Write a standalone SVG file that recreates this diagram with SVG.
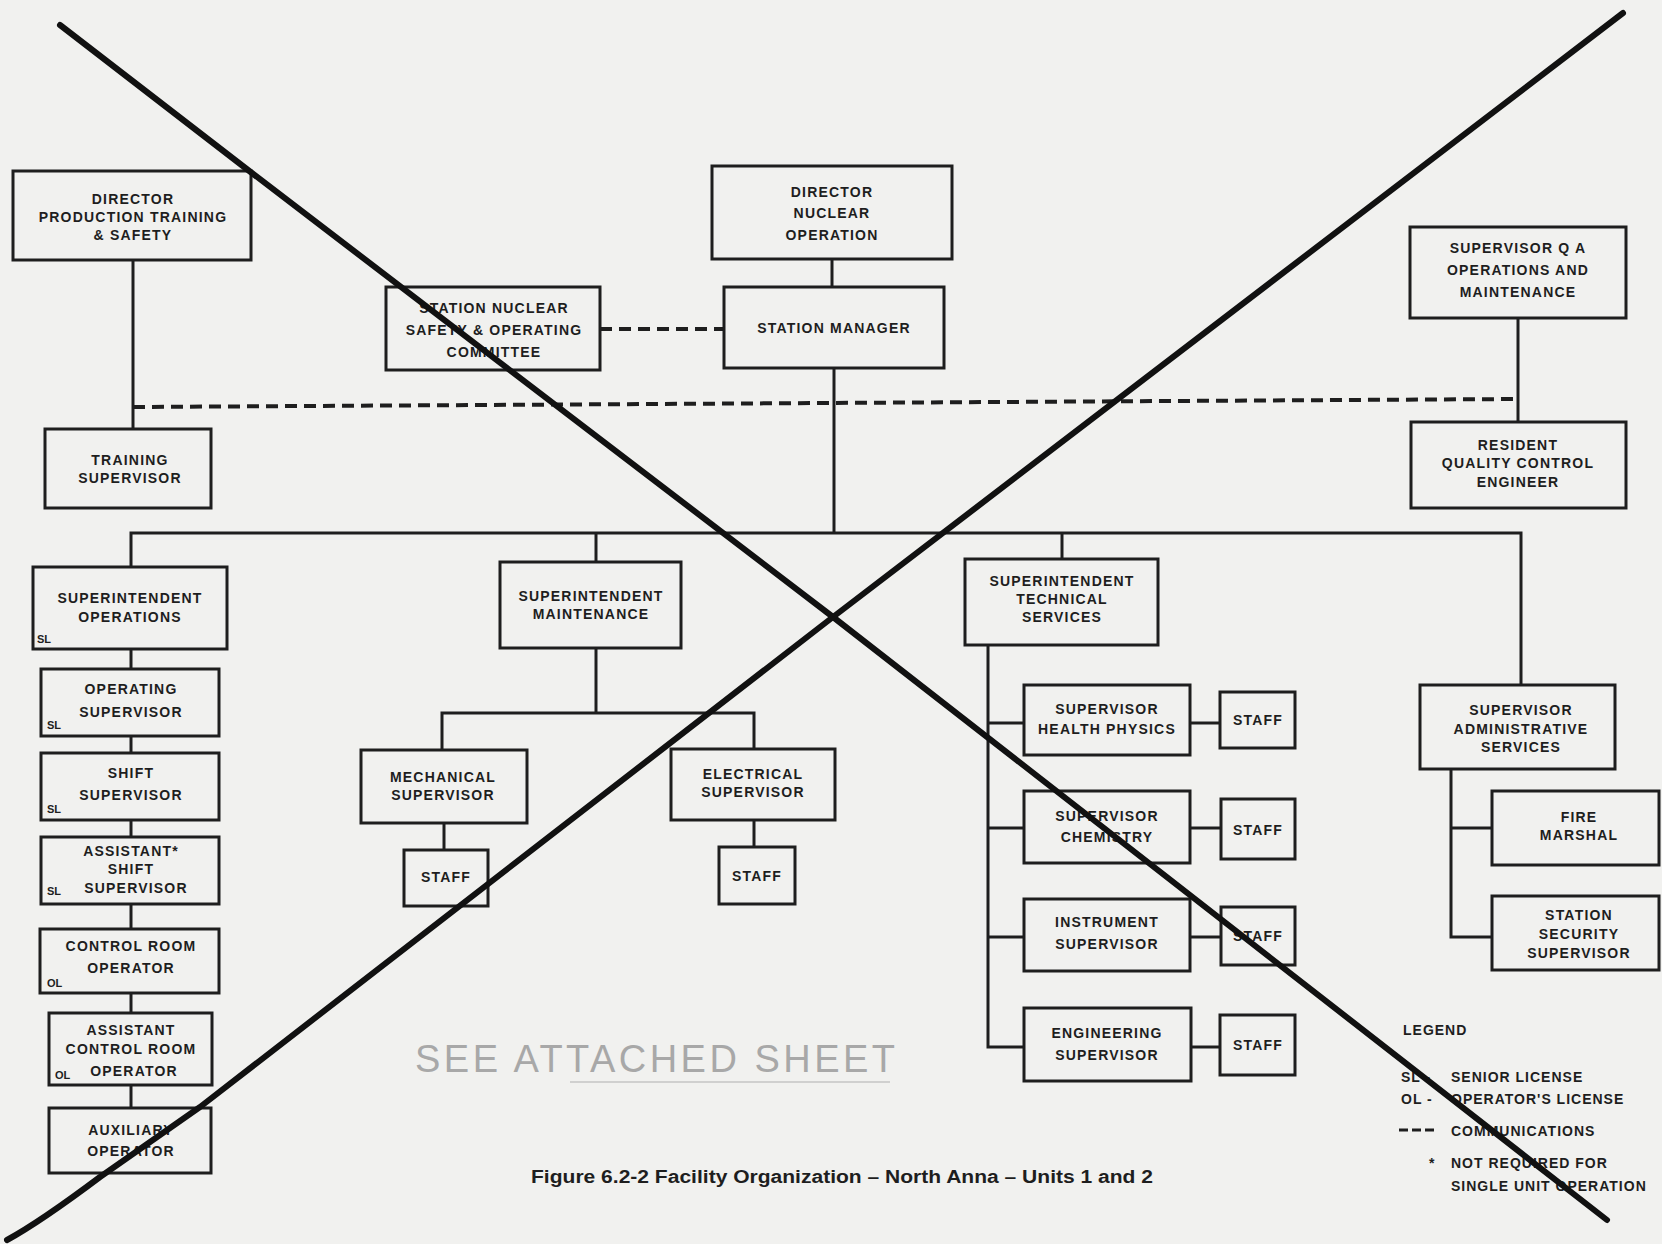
<svg xmlns="http://www.w3.org/2000/svg" width="1662" height="1244" viewBox="0 0 1662 1244">
<style>
.bg{fill:#f1f1ef}
.box{fill:none;stroke:#1e1e1e;stroke-width:3}
.ln{fill:none;stroke:#1e1e1e;stroke-width:3}
.dash{fill:none;stroke:#1e1e1e;stroke-width:4;stroke-dasharray:12 7}
.t{font-family:"Liberation Sans",Arial,sans-serif;font-weight:bold;font-size:14px;letter-spacing:1.2px;fill:#1e1e1e;text-anchor:middle}
.s{font-family:"Liberation Sans",Arial,sans-serif;font-weight:bold;font-size:11px;fill:#1e1e1e;text-anchor:start}
.lg{font-family:"Liberation Sans",Arial,sans-serif;font-weight:bold;font-size:14px;letter-spacing:1px;fill:#1e1e1e;text-anchor:start}
.x{fill:none;stroke:#111;stroke-width:6;stroke-linecap:round;stroke-linejoin:round}
</style>
<rect class="bg" x="0" y="0" width="1662" height="1244"/>

<g id="connectors">
  <line class="ln" x1="133" y1="260" x2="133" y2="429"/>
  <line class="ln" x1="832" y1="259" x2="832" y2="287"/>
  <line class="ln" x1="834" y1="368" x2="834" y2="533"/>
  <line class="ln" x1="1518" y1="318" x2="1518" y2="422"/>
  <line class="dash" x1="600" y1="329" x2="724" y2="329"/>
  <line class="dash" x1="133" y1="407" x2="1518" y2="399"/>
  <polyline class="ln" points="131,567 131,533 1521,533 1521,685"/>
  <line class="ln" x1="596" y1="533" x2="596" y2="562"/>
  <line class="ln" x1="1062" y1="533" x2="1062" y2="559"/>
  <line class="ln" x1="131" y1="649" x2="131" y2="669"/>
  <line class="ln" x1="131" y1="736" x2="131" y2="753"/>
  <line class="ln" x1="131" y1="820" x2="131" y2="837"/>
  <line class="ln" x1="131" y1="904" x2="131" y2="929"/>
  <line class="ln" x1="131" y1="993" x2="131" y2="1013"/>
  <line class="ln" x1="131" y1="1085" x2="131" y2="1108"/>
  <line class="ln" x1="596" y1="648" x2="596" y2="713"/>
  <polyline class="ln" points="442,750 442,713 754,713 754,749"/>
  <line class="ln" x1="444" y1="823" x2="444" y2="850"/>
  <line class="ln" x1="754" y1="820" x2="754" y2="847"/>
  <polyline class="ln" points="988,645 988,1047 1024,1047"/>
  <line class="ln" x1="988" y1="723" x2="1024" y2="723"/>
  <line class="ln" x1="988" y1="828" x2="1024" y2="828"/>
  <line class="ln" x1="988" y1="937" x2="1024" y2="937"/>
  <line class="ln" x1="1190" y1="723" x2="1220" y2="723"/>
  <line class="ln" x1="1190" y1="828" x2="1221" y2="828"/>
  <line class="ln" x1="1190" y1="937" x2="1221" y2="937"/>
  <line class="ln" x1="1191" y1="1047" x2="1220" y2="1047"/>
  <polyline class="ln" points="1451,769 1451,937 1492,937"/>
  <line class="ln" x1="1451" y1="828" x2="1492" y2="828"/>
</g>

<g id="dir-pts"><rect class="box" x="13" y="171" width="238" height="89"/>
<text class="t" x="133" y="204">DIRECTOR</text><text class="t" x="133" y="222">PRODUCTION TRAINING</text><text class="t" x="133" y="240">&amp; SAFETY</text></g>
<g id="dir-no"><rect class="box" x="712" y="166" width="240" height="93"/>
<text class="t" x="832" y="197">DIRECTOR</text><text class="t" x="832" y="218">NUCLEAR</text><text class="t" x="832" y="240">OPERATION</text></g>
<g id="snsoc"><rect class="box" x="386" y="287" width="214" height="83"/>
<text class="t" x="494" y="313">STATION NUCLEAR</text><text class="t" x="494" y="335">SAFETY &amp; OPERATING</text><text class="t" x="494" y="357">COMMITTEE</text></g>
<g id="station-manager"><rect class="box" x="724" y="287" width="220" height="81"/>
<text class="t" x="834" y="333">STATION MANAGER</text></g>
<g id="sup-qa"><rect class="box" x="1410" y="227" width="216" height="91"/>
<text class="t" x="1518" y="253">SUPERVISOR Q A</text><text class="t" x="1518" y="275">OPERATIONS AND</text><text class="t" x="1518" y="297">MAINTENANCE</text></g>
<g id="training-sup"><rect class="box" x="45" y="429" width="166" height="79"/>
<text class="t" x="130" y="465">TRAINING</text><text class="t" x="130" y="483">SUPERVISOR</text></g>
<g id="resident-qc"><rect class="box" x="1411" y="422" width="215" height="86"/>
<text class="t" x="1518" y="450">RESIDENT</text><text class="t" x="1518" y="468">QUALITY CONTROL</text><text class="t" x="1518" y="487">ENGINEER</text></g>

<g id="supt-ops"><rect class="box" x="33" y="567" width="194" height="82"/>
<text class="t" x="130" y="603">SUPERINTENDENT</text><text class="t" x="130" y="622">OPERATIONS</text><text class="s" x="37" y="643">SL</text></g>
<g id="op-sup"><rect class="box" x="41" y="669" width="178" height="67"/>
<text class="t" x="131" y="694">OPERATING</text><text class="t" x="131" y="717">SUPERVISOR</text><text class="s" x="47" y="729">SL</text></g>
<g id="shift-sup"><rect class="box" x="41" y="753" width="178" height="67"/>
<text class="t" x="131" y="778">SHIFT</text><text class="t" x="131" y="800">SUPERVISOR</text><text class="s" x="47" y="813">SL</text></g>
<g id="asst-shift-sup"><rect class="box" x="41" y="837" width="178" height="67"/>
<text class="t" x="131" y="856">ASSISTANT*</text><text class="t" x="131" y="874">SHIFT</text><text class="t" x="136" y="893">SUPERVISOR</text><text class="s" x="47" y="895">SL</text></g>
<g id="cr-op"><rect class="box" x="40" y="929" width="179" height="64"/>
<text class="t" x="131" y="951">CONTROL ROOM</text><text class="t" x="131" y="973">OPERATOR</text><text class="s" x="47" y="987">OL</text></g>
<g id="asst-cr-op"><rect class="box" x="49" y="1013" width="163" height="72"/>
<text class="t" x="131" y="1035">ASSISTANT</text><text class="t" x="131" y="1054">CONTROL ROOM</text><text class="t" x="134" y="1076">OPERATOR</text><text class="s" x="55" y="1079">OL</text></g>
<g id="aux-op"><rect class="box" x="49" y="1108" width="162" height="65"/>
<text class="t" x="131" y="1135">AUXILIARY</text><text class="t" x="131" y="1156">OPERATOR</text></g>

<g id="supt-maint"><rect class="box" x="500" y="562" width="181" height="86"/>
<text class="t" x="591" y="601">SUPERINTENDENT</text><text class="t" x="591" y="619">MAINTENANCE</text></g>
<g id="mech-sup"><rect class="box" x="361" y="750" width="166" height="73"/>
<text class="t" x="443" y="782">MECHANICAL</text><text class="t" x="443" y="800">SUPERVISOR</text></g>
<g id="mech-staff"><rect class="box" x="404" y="850" width="84" height="56"/>
<text class="t" x="446" y="882">STAFF</text></g>
<g id="elec-sup"><rect class="box" x="671" y="749" width="164" height="71"/>
<text class="t" x="753" y="779">ELECTRICAL</text><text class="t" x="753" y="797">SUPERVISOR</text></g>
<g id="elec-staff"><rect class="box" x="719" y="847" width="76" height="57"/>
<text class="t" x="757" y="881">STAFF</text></g>

<g id="supt-tech"><rect class="box" x="965" y="559" width="193" height="86"/>
<text class="t" x="1062" y="586">SUPERINTENDENT</text><text class="t" x="1062" y="604">TECHNICAL</text><text class="t" x="1062" y="622">SERVICES</text></g>
<g id="sup-hp"><rect class="box" x="1024" y="685" width="166" height="70"/>
<text class="t" x="1107" y="714">SUPERVISOR</text><text class="t" x="1107" y="734">HEALTH PHYSICS</text></g>
<g id="hp-staff"><rect class="box" x="1220" y="692" width="75" height="56"/>
<text class="t" x="1258" y="725">STAFF</text></g>
<g id="sup-chem"><rect class="box" x="1024" y="791" width="166" height="72"/>
<text class="t" x="1107" y="821">SUPERVISOR</text><text class="t" x="1107" y="842">CHEMISTRY</text></g>
<g id="chem-staff"><rect class="box" x="1221" y="799" width="74" height="60"/>
<text class="t" x="1258" y="835">STAFF</text></g>
<g id="inst-sup"><rect class="box" x="1024" y="899" width="166" height="72"/>
<text class="t" x="1107" y="927">INSTRUMENT</text><text class="t" x="1107" y="949">SUPERVISOR</text></g>
<g id="inst-staff"><rect class="box" x="1221" y="907" width="74" height="58"/>
<text class="t" x="1258" y="941">STAFF</text></g>
<g id="eng-sup"><rect class="box" x="1024" y="1008" width="167" height="73"/>
<text class="t" x="1107" y="1038">ENGINEERING</text><text class="t" x="1107" y="1060">SUPERVISOR</text></g>
<g id="eng-staff"><rect class="box" x="1220" y="1015" width="75" height="60"/>
<text class="t" x="1258" y="1050">STAFF</text></g>

<g id="sup-admin"><rect class="box" x="1420" y="685" width="195" height="84"/>
<text class="t" x="1521" y="715">SUPERVISOR</text><text class="t" x="1521" y="734">ADMINISTRATIVE</text><text class="t" x="1521" y="752">SERVICES</text></g>
<g id="fire-marshal"><rect class="box" x="1492" y="791" width="167" height="74"/>
<text class="t" x="1579" y="822">FIRE</text><text class="t" x="1579" y="840">MARSHAL</text></g>
<g id="station-security"><rect class="box" x="1492" y="896" width="167" height="74"/>
<text class="t" x="1579" y="920">STATION</text><text class="t" x="1579" y="939">SECURITY</text><text class="t" x="1579" y="958">SUPERVISOR</text></g>

<g id="legend">
<text class="lg" x="1403" y="1035">LEGEND</text>
<text class="lg" x="1401" y="1082">SL -</text><text class="lg" x="1451" y="1082">SENIOR LICENSE</text>
<text class="lg" x="1401" y="1104">OL -</text><text class="lg" x="1451" y="1104">OPERATOR'S LICENSE</text>
<line class="dash" x1="1399" y1="1130" x2="1438" y2="1130" style="stroke-dasharray:9 4;stroke-width:3"/>
<text class="lg" x="1451" y="1136">COMMUNICATIONS</text>
<text class="lg" x="1429" y="1168">*</text><text class="lg" x="1451" y="1168">NOT REQUIRED FOR</text>
<text class="lg" x="1451" y="1191">SINGLE UNIT OPERATION</text>
</g>

<g id="notes">
<text x="415" y="1072" style="font-family:'Liberation Sans',Arial,sans-serif;font-size:38px;fill:#a8a8a8" textLength="480" lengthAdjust="spacing">SEE   ATTACHED   SHEET</text>
<line x1="570" y1="1082" x2="890" y2="1082" style="stroke:#c4c4c4;stroke-width:1.5"/>
<text x="842" y="1183" style="font-family:'Liberation Sans',Arial,sans-serif;font-weight:bold;font-size:18px;fill:#1e1e1e;text-anchor:middle" textLength="622" lengthAdjust="spacingAndGlyphs">Figure 6.2-2  Facility Organization – North Anna – Units 1 and 2</text>
</g>

<g id="cross-out">
<polyline class="x" points="60,25 248,170 833,617 1607,1220"/>
<path class="x" d="M7,1240 Q40,1222 100,1177 L200,1107 L833,617 L1623,13"/>
</g>
</svg>
